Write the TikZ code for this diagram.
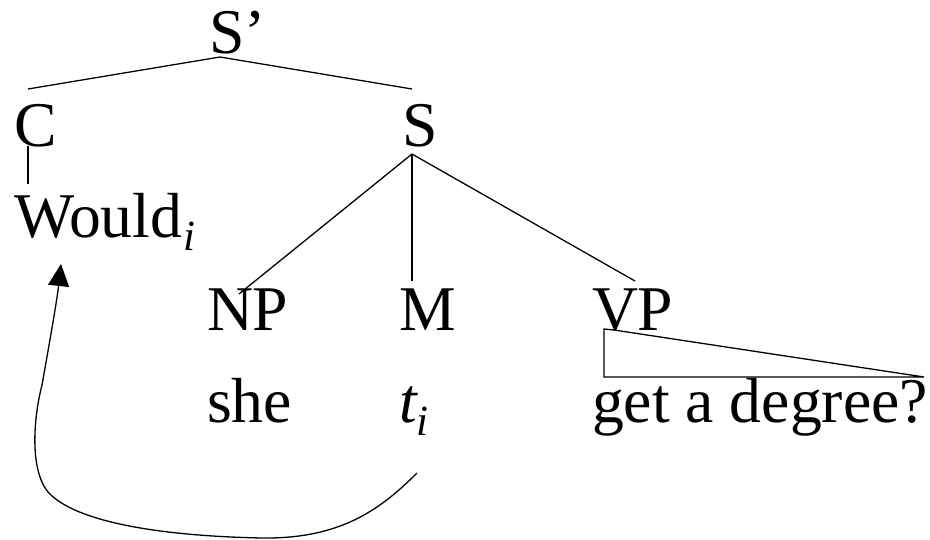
\documentclass[tikz,border=0pt]{standalone}
\usepackage{fontspec}
\setmainfont{Liberation Serif}
\usetikzlibrary{arrows.meta}
\begin{document}
\begin{tikzpicture}[x=1pt,y=-1pt,
  lbl/.style={anchor=base west,inner sep=0pt,outer sep=0pt,font=\fontsize{63.7}{70}\selectfont},
  edge/.style={line width=1.3pt}]
\useasboundingbox (0,0) rectangle (930,539);
% labels
\node[lbl] (Sp) at (209,53) {S’};
\node[lbl] (C) at (14,146) {C};
\node[lbl] (S) at (402,146) {S};
\node[lbl] (Would) at (14,237) {Would\kern1pt\raisebox{-13pt}{\fontsize{43}{43}\selectfont\itshape i}};
\node[lbl] (NP) at (207,330) {NP};
\node[lbl] (M) at (399,330) {M};
\node[lbl] (VP) at (592,330) {VP};
\node[lbl] (she) at (207,422) {she};
\node[lbl] (t) at (399,422) {\itshape t\raisebox{-13pt}{\fontsize{43}{43}\selectfont\itshape i}};
\node[lbl] (deg) at (592,422) {get a degree?};
% connector end points
\coordinate (Spf) at (220,57);
\coordinate (Ct) at (28,89);
\coordinate (St) at (412,89);
\coordinate (Cb) at (28,146);
\coordinate (Wt) at (28,184);
\coordinate (Sf) at (412,154);
\coordinate (NPt) at (239,294);
\coordinate (Mt) at (412,281);
\coordinate (VPt) at (635,281);
\coordinate (tr1) at (604,329);
\coordinate (tr2) at (604,377);
\coordinate (tr3) at (924,377);
\coordinate (tr4) at (614,330);
\coordinate (arS) at (417,473);
\coordinate (arE) at (61,264);
% tree edges
\draw[edge] (Spf) -- (Ct);
\draw[edge] (Spf) -- (St);
\draw[edge] (Cb) -- (Wt);
\draw[edge] (Sf) -- (NPt);
\draw[edge] (Sf) -- (Mt);
\draw[edge] (Sf) -- (VPt);
\draw[edge,line join=miter] (tr4) -- (tr1) -- (tr2) -- (tr3) -- cycle;
% movement arrow
\draw[edge,-{Triangle[length=22pt,width=21pt]}] (arS)
  .. controls (380,510) and (340,539) .. (262,538)
  .. controls (160,536) and (75,522) .. (48,492)
  .. controls (30,470) and (33,420) .. (42,385)
  .. controls (50,340) and (57,300) .. (arE);
\end{tikzpicture}
\end{document}
